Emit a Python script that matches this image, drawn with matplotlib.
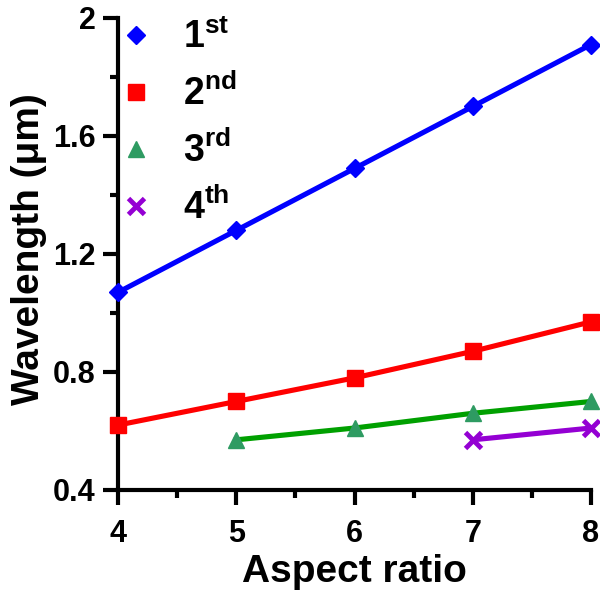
import numpy as np
import matplotlib
matplotlib.use('Agg')
import matplotlib.pyplot as plt
from matplotlib.ticker import MultipleLocator

plt.rcParams['font.family'] = ['Liberation Sans', 'DejaVu Sans']
plt.rcParams['font.weight'] = 'bold'
plt.rcParams['mathtext.fontset'] = 'custom'
plt.rcParams['mathtext.rm'] = 'Liberation Sans:bold'
plt.rcParams['mathtext.bf'] = 'Liberation Sans:bold'
plt.rcParams['mathtext.it'] = 'Liberation Sans:bold'

# data
ar1 = [4, 5, 6, 7, 8]
wl1 = [1.07, 1.28, 1.49, 1.70, 1.91]
ar2 = [4, 5, 6, 7, 8]
wl2 = [0.62, 0.70, 0.78, 0.87, 0.97]
ar3 = [5, 6, 7, 8]
wl3 = [0.57, 0.61, 0.66, 0.70]
ar4 = [7, 8]
wl4 = [0.57, 0.61]
labels = [r'$\mathbf{1^{st}}$', r'$\mathbf{2^{nd}}$', r'$\mathbf{3^{rd}}$', r'$\mathbf{4^{th}}$']
xticks = [4, 5, 6, 7, 8]
yticks = [0.4, 0.8, 1.2, 1.6, 2.0]
yticklabels = ['0.4', '0.8', '1.2', '1.6', '2']

fig = plt.figure(figsize=(6, 5.96), dpi=100)
ax = fig.add_axes([0.1967, 0.1779, 0.7883, 0.7919])

lw = 3.7
ax.plot(ar1, wl1, color='#0000ff', lw=lw, zorder=3)
ax.plot(ar2, wl2, color='#ff0000', lw=lw, zorder=3)
ax.plot(ar3, wl3, color='#00a000', lw=lw, zorder=3)
ax.plot(ar4, wl4, color='#9400d3', lw=lw, zorder=3)

h1, = ax.plot(ar1, wl1, 'D', color='#0000ff', ms=9.5, ls='none', clip_on=False, zorder=4)
h2, = ax.plot(ar2, wl2, 's', color='#ff0000', ms=11, ls='none', clip_on=False, zorder=4)
h3, = ax.plot(ar3, wl3, '^', color='#2e9b62', ms=11, ls='none', clip_on=False, zorder=4)
h4, = ax.plot(ar4, wl4, 'x', color='#9400d3', ms=11, mew=3.5, ls='none', clip_on=False, zorder=4)

ax.set_xlim(4, 8)
ax.set_ylim(0.4, 2.0)
ax.set_xticks(xticks)
ax.set_xticklabels([str(v) for v in xticks], fontsize=22, fontweight='bold')
ax.set_yticks(yticks)
ax.set_yticklabels(yticklabels, fontsize=22, fontweight='bold')
ax.xaxis.set_minor_locator(MultipleLocator(0.5))
ax.yaxis.set_minor_locator(MultipleLocator(0.2))

for s in ['top', 'right']:
    ax.spines[s].set_visible(False)
for s in ['left', 'bottom']:
    ax.spines[s].set_linewidth(3)
    ax.spines[s].set_capstyle('projecting')
ax.tick_params(which='major', direction='out', length=11, width=3)
ax.tick_params(which='minor', direction='out', length=6, width=3)
ax.tick_params(axis='x', which='major', pad=10)
ax.tick_params(axis='y', which='major', pad=5)

ax.set_xlabel('Aspect ratio', fontsize=28, fontweight='bold')
ax.xaxis.set_label_coords(0.5, -0.135)
ax.set_ylabel('Wavelength (\u03bcm)', fontsize=28, fontweight='bold')
ax.yaxis.set_label_coords(-0.15, 0.51)

leg = ax.legend([h1, h2, h3, h4], labels, loc='upper left', bbox_to_anchor=(-0.03, 1.03),
                frameon=False, numpoints=1, fontsize=27, handlelength=0.9,
                handletextpad=0.8, labelspacing=0.5, borderaxespad=0)

fig.savefig('out.png', dpi=100)
